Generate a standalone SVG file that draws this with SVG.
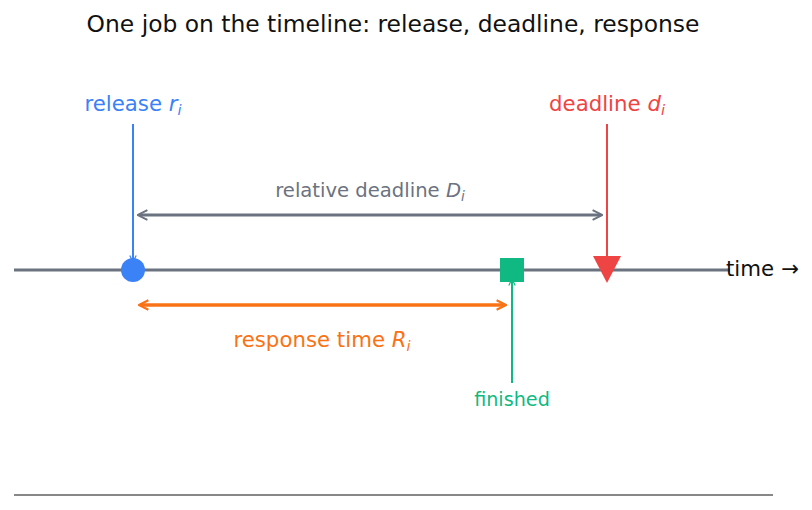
<svg xmlns="http://www.w3.org/2000/svg" width="812" height="510" viewBox="0 0 812 510">
<style>
text{font-family:"DejaVu Sans","Liberation Sans",sans-serif}
.t{font-size:23.4px;fill:#111}
.lbl{font-size:21.3px}
</style>
<defs>
<marker id="aB" viewBox="0 0 10 10" refX="9" refY="5" markerWidth="8" markerHeight="8" markerUnits="userSpaceOnUse" orient="auto"><path d="M1,1 L9,5 L1,9" fill="none" stroke="#3b82f6" stroke-width="1.5"/></marker>
<marker id="aR" viewBox="0 0 10 10" refX="9" refY="5" markerWidth="8" markerHeight="8" markerUnits="userSpaceOnUse" orient="auto"><path d="M1,1 L9,5 L1,9" fill="none" stroke="#ef4444" stroke-width="1.5"/></marker>
<marker id="aG" viewBox="0 0 10 10" refX="9" refY="5" markerWidth="8" markerHeight="8" markerUnits="userSpaceOnUse" orient="auto"><path d="M1,1 L9,5 L1,9" fill="none" stroke="#10b981" stroke-width="1.5"/></marker>
<marker id="aY" viewBox="0 0 10 10" refX="8" refY="5" markerWidth="12" markerHeight="12" markerUnits="userSpaceOnUse" orient="auto-start-reverse"><path d="M1,1 L9,5 L1,9" fill="none" stroke="#6b7280" stroke-width="1.6"/></marker>
<marker id="aO" viewBox="0 0 10 10" refX="8" refY="5" markerWidth="12" markerHeight="12" markerUnits="userSpaceOnUse" orient="auto-start-reverse"><path d="M1,1 L9,5 L1,9" fill="none" stroke="#f97316" stroke-width="1.8"/></marker>
</defs>
<text class="t" x="393" y="32" text-anchor="middle">One job on the timeline: release, deadline, response</text>
<g id="timeline">
<line x1="14" y1="270" x2="730" y2="270" stroke="#6b7280" stroke-width="3"/>
<text class="lbl" x="726" y="276" fill="#111">time →</text>
</g>
<g id="connectors">
<line x1="133" y1="124" x2="133" y2="262" stroke="#3b82f6" stroke-width="2" marker-end="url(#aB)"/>
<line x1="607" y1="124" x2="607" y2="263" stroke="#ef4444" stroke-width="2" marker-end="url(#aR)"/>
<line x1="512" y1="383" x2="512" y2="279" stroke="#10b981" stroke-width="2" marker-end="url(#aG)"/>
<line x1="139" y1="215" x2="601" y2="215" stroke="#6b7280" stroke-width="3" marker-start="url(#aY)" marker-end="url(#aY)"/>
<line x1="140" y1="305" x2="505" y2="305" stroke="#f97316" stroke-width="3.5" marker-start="url(#aO)" marker-end="url(#aO)"/>
</g>
<g id="release">
<circle cx="133" cy="270" r="12" fill="#3b82f6"/>
<text class="lbl" x="133" y="111" text-anchor="middle" fill="#3b82f6">release <tspan font-style="italic">r</tspan><tspan font-style="italic" font-size="14.5" dy="4">i</tspan></text>
</g>
<g id="deadline">
<path d="M593,256 L621,256 L607,283 Z" fill="#ef4444"/>
<text class="lbl" x="607" y="111" text-anchor="middle" fill="#ef4444">deadline <tspan font-style="italic">d</tspan><tspan font-style="italic" font-size="14.5" dy="4">i</tspan></text>
</g>
<g id="finished">
<rect x="500" y="258" width="24" height="24" fill="#10b981"/>
<text x="512" y="406" text-anchor="middle" font-size="19.2" fill="#10b981">finished</text>
</g>
<g id="relative">
<text x="370" y="197" text-anchor="middle" font-size="19.6" fill="#6b7280">relative deadline <tspan font-style="italic">D</tspan><tspan font-style="italic" font-size="13.5" dy="4">i</tspan></text>
</g>
<g id="response">
<text class="lbl" x="322" y="347" text-anchor="middle" fill="#f97316">response time <tspan font-style="italic">R</tspan><tspan font-style="italic" font-size="14.5" dy="4">i</tspan></text>
</g>
<line x1="14" y1="495" x2="773" y2="495" stroke="#888" stroke-width="2"/>
</svg>
